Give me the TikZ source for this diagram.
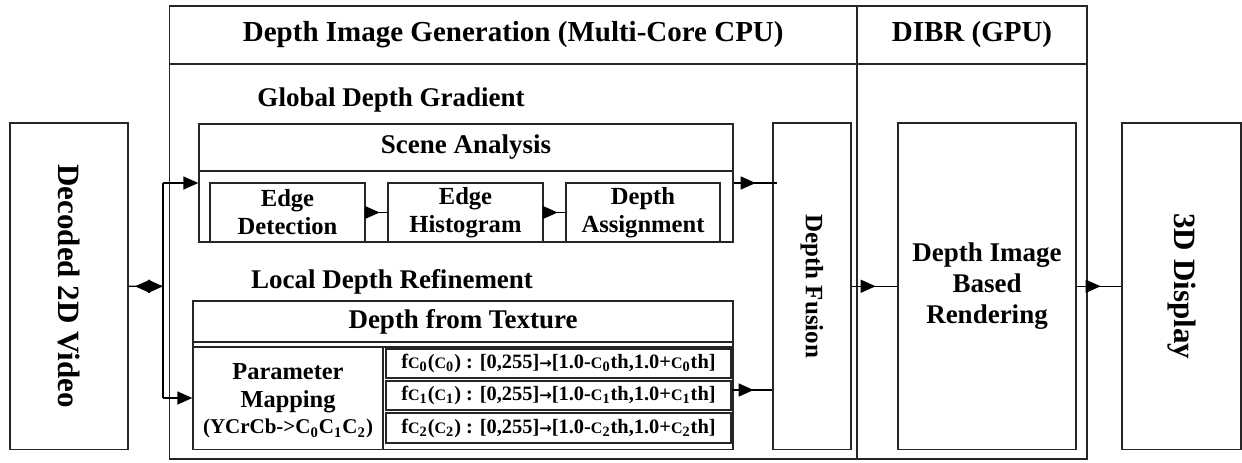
\documentclass[tikz,border=0pt]{standalone}
\usepackage{fontspec}
\setmainfont{Liberation Serif}
\newfontfamily\arrfont{DejaVu Sans}
\usetikzlibrary{arrows.meta,fit,calc}
\newcommand\fsz[2]{\fontsize{#1pt}{#2pt}\selectfont\bfseries}
\newcommand\smC{{\fontsize{8pt}{8pt}\selectfont C}}
\newcommand\sbs[1]{\textsubscript{#1}}
\newcommand\fcrow[1]{f\smC\sbs{#1}(\smC\sbs{#1}) : [0,255]{\arrfont\fontsize{7.5pt}{7.5pt}\selectfont\bfseries →}[1.0-\smC\sbs{#1}th,1.0+\smC\sbs{#1}th]}
\begin{document}
\begin{tikzpicture}[x=0.5pt,y=-0.5pt,
  box/.style={draw=black!85, line width=0.65pt, inner sep=0pt, fill=white},
  ln/.style={draw=black, line width=0.65pt},
  tri/.style={draw=black, line width=0.65pt, -{Triangle[length=7.5pt,width=6.5pt]}},
  hdr/.style={font=\fsz{14.5}{17}, align=center},
  lbl/.style={font=\fsz{13.5}{15.5}, align=center},
  sub/.style={font=\fsz{12.3}{14}, align=center},
  fct/.style={font=\fsz{10.2}{12}}]
\useasboundingbox (0,0) rectangle (1242,462);
% outer frame
\node[box, fit={(169.5,6) (857,64)}] (hcpu) {};
\node[box, fit={(857,6) (1087,64)}] (hgpu) {};
\node[box, fit={(169.5,64) (857,459)}] (bcpu) {};
\node[box, fit={(857,64) (1087,459)}] (bgpu) {};
\node[hdr] at (hcpu.center) (thcpu) {Depth Image Generation (Multi-Core CPU)};
\node[hdr] at (hgpu.center) (thgpu) {DIBR (GPU)};
% left and right boxes
\node[box, fit={(10,123) (128,449.5)}] (dec) {};
\node[font=\fsz{15.5}{17}, rotate=-90] at (dec.center) (tdec) {Decoded 2D Video};
\node[box, fit={(773,123) (851,449.5)}] (fus) {};
\node[font=\fsz{12.5}{14}, rotate=-90] at (fus.center) (tfus) {Depth Fusion};
\node[box, fit={(898,123) (1076,449.5)}] (dibr) {};
\node[lbl] at (dibr.center) (tdibr) {Depth Image\\Based\\Rendering};
\node[box, fit={(1122,123) (1241,449.5)}] (disp) {};
\node[font=\fsz{15.5}{17}, rotate=-90] at (disp.center) (tdisp) {3D Display};
% global depth gradient
\node[lbl] at (391,100) (tgdg) {Global Depth Gradient};
\node[box, fit={(199,124) (733,242)}] (scene) {};
\node[box, fit={(199,124) (733,171)}] (scenet) {};
\node[lbl] at (scenet.center) (tscene) {Scene Analysis};
\node[box, fit={(210,183) (365,242)}] (ed) {};
\node[box, fit={(388,183) (543,242)}] (eh) {};
\node[box, fit={(566,183) (720,242)}] (da) {};
\node[sub] at (ed.center) (ted) {Edge\\Detection};
\node[sub] at (eh.center) (teh) {Edge\\Histogram};
\node[sub] at (da.center) (tda) {Depth\\Assignment};
% local depth refinement
\node[lbl] at (392,282) (tldr) {Local Depth Refinement};
\node[box, fit={(193,301) (733,449.5)}] (dft) {};
\node[box, fit={(193,301) (733,342)}] (dftt) {};
\node[lbl] at (dftt.center) (tdft) {Depth from Texture};
\draw[ln, draw=black!85] (193,347) -- (733,347);
\node[box, fit={(193,347) (383,449.5)}] (pm) {};
\node[align=center, font=\fsz{12.2}{14}] at (288,401) (tpm) {Parameter\\Mapping\\[-1pt]{\fsz{10.5}{12}(YCrCb->C\sbs{0}C\sbs{1}C\sbs{2})}};
\node[box, fit={(386,349) (731,378)}] (fc0) {};
\node[box, fit={(386,381) (731,410)}] (fc1) {};
\node[box, fit={(386,413) (731,443)}] (fc2) {};
\node[fct] at (fc0.center) (tfc0) {\fcrow{0}};
\node[fct] at (fc1.center) (tfc1) {\fcrow{1}};
\node[fct] at (fc2.center) (tfc2) {\fcrow{2}};
% connectors
\coordinate (jc) at (163,286.3);
\coordinate (jt) at (163,183);
\coordinate (jb) at (163,398);
\coordinate (yf) at (0,390);
\draw[ln] (dec.east) -- (jc);
\draw[tri] (150,286.3) -- (135,286.3);
\draw[tri] (148,286.3) -- (jc);
\draw[ln] (jt) -- (jb);
\draw[tri] (jt) -- (jt -| scene.west);
\draw[tri] (jb) -- (jb -| dft.west);
\draw[ln] (ed.east) -- (eh.west);
\draw[tri] (ed.east) -- ++(14,0);
\draw[ln] (eh.east) -- (da.west);
\draw[tri] (eh.east) -- ++(14,0);
\draw[ln] (scene.east |- jt) -- ($(fus.west |- jt)+(5,0)$);
\draw[tri] ($(scene.east |- jt)+(7,0)$) -- ++(15,0);
\draw[ln] (fc1.east |- yf) -- (fus.west |- yf);
\draw[tri] ($(fc1.east |- yf)+(7,0)$) -- ++(15,0);
\draw[ln] (fus.east) -- (dibr.west);
\draw[tri] ($(fus.east)+(9,0)$) -- ++(15,0);
\draw[ln] (dibr.east) -- (disp.west);
\draw[tri] ($(dibr.east)+(9,0)$) -- ++(15,0);
\end{tikzpicture}
\end{document}
